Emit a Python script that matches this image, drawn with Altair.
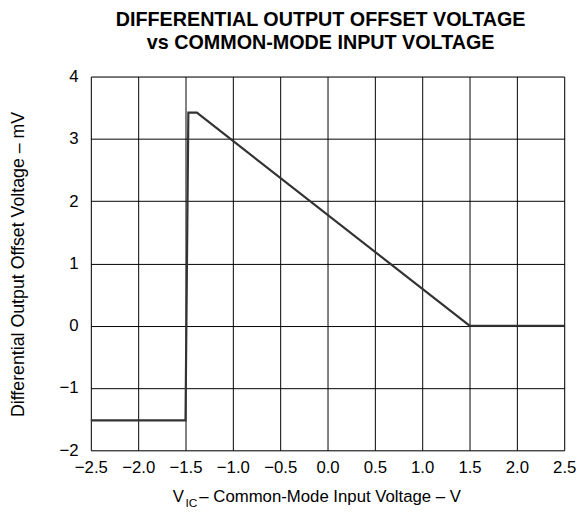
import altair as alt
import pandas as pd

# Data
vic = [-2.5, -1.5, -1.47, -1.38, 1.5, 2.5]
vos = [-1.52, -1.52, 3.42, 3.42, 0.0, 0.0]
x_ticks = [-2.5, -2.0, -1.5, -1.0, -0.5, 0.0, 0.5, 1.0, 1.5, 2.0, 2.5]
y_ticks = [-2, -1, 0, 1, 2, 3, 4]
title_line1 = "DIFFERENTIAL OUTPUT OFFSET VOLTAGE"
title_line2 = "vs COMMON-MODE INPUT VOLTAGE"
y_title = "Differential Output Offset Voltage – mV"
x_title_main = "V"
x_title_sub = "IC"
x_title_rest = "– Common-Mode Input Voltage – V"

FONT = "Liberation Sans"
W, H = 480, 379

df = pd.DataFrame({"vic": vic, "vos": vos, "order": list(range(len(vic)))})

line = alt.Chart(df).mark_line(color="#333333", strokeWidth=2.2).encode(
    x=alt.X("vic:Q",
            scale=alt.Scale(domain=[-2.5, 2.5], nice=False, zero=False),
            axis=alt.Axis(values=x_ticks, format=".1f", title=None, grid=True,
                          ticks=False, domain=False, labelPadding=10,
                          labelOverlap=False, labelBound=False, labelFlush=False,
                          labelFontSize=17, labelFont=FONT, labelColor="black",
                          gridColor="black", gridWidth=1, gridOpacity=1)),
    y=alt.Y("vos:Q",
            scale=alt.Scale(domain=[-2, 4], nice=False, zero=False),
            axis=alt.Axis(values=y_ticks, format="d", title=y_title, grid=True,
                          ticks=False, domain=False, labelPadding=13,
                          labelOverlap=False, labelBound=False, labelFlush=False,
                          labelFontSize=17, labelFont=FONT, labelColor="black",
                          titleFont=FONT, titleFontSize=18, titleFontWeight="normal",
                          titleColor="black", titleX=-68, titleY=190,
                          titleBaseline="alphabetic", titleAlign="center", titleAngle=270,
                          gridColor="black", gridWidth=1, gridOpacity=1)),
    order="order:Q",
)

ann = alt.Data(values=[{"a": 1}])


def txt(text, x, y, size, weight="normal", align="left"):
    return alt.Chart(ann).mark_text(font=FONT, fontSize=size, fontWeight=weight,
                                    align=align, baseline="alphabetic",
                                    color="black").encode(
        x=alt.value(x), y=alt.value(y), text=alt.value(text))


layers = [
    line,
    txt(title_line1, 233, -51, 20, "bold", "center"),
    txt(title_line2, 233, -28, 20, "bold", "center"),
    txt(x_title_main, 83, 431, 17),
    txt(x_title_sub, 96, 436, 12),
    txt(x_title_rest, 110, 431, 17),
]

chart = alt.layer(*layers).properties(
    width=W, height=H,
    autosize=alt.AutoSizeParams(type="none"),
    padding={"left": 84, "top": 66, "right": 15, "bottom": 56},
).configure_view(stroke="black", strokeWidth=2.5).configure(background="white")

chart.save("out.html", embed_options={"renderer": "svg", "actions": False})
